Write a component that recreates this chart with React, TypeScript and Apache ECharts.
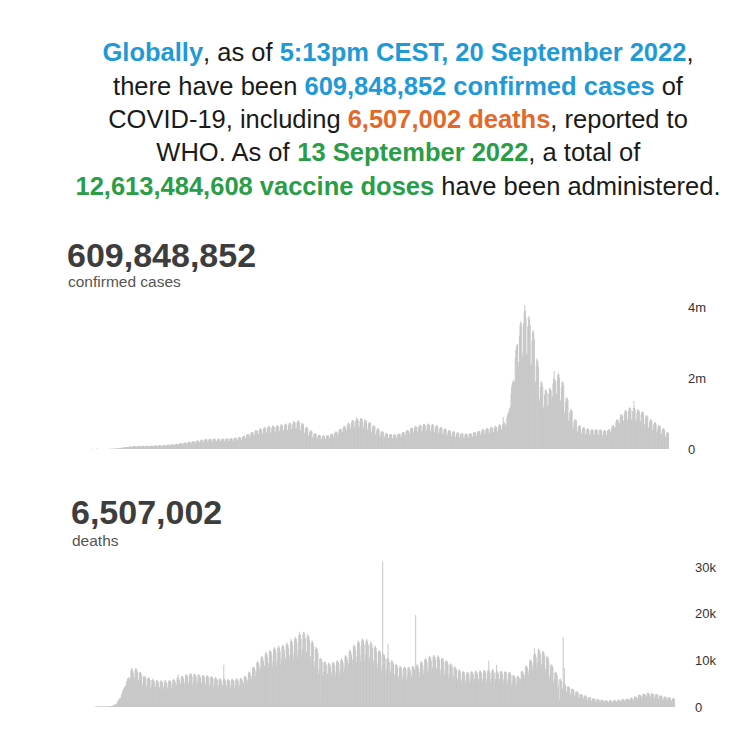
import React, { useEffect, useRef } from "react";
import * as echarts from "echarts";

// Daily new confirmed cases, in thousands (one row = one week)
const CASES_K = [
  0,0,0,0,0,0,0, 0,0,0,0,0,0,0, 0,0,0,0,1,1,1, 1,1,2,2,2,2,3,
  3,3,3,4,4,3,3, 3,3,2,2,15,5,3, 2,2,2,2,1,1,1, 1,1,1,2,2,2,2,
  2,2,3,3,4,4,4, 5,6,7,8,9,10,11, 11,12,14,16,17,18,19, 22,24,28,32,34,35,36,
  40,43,50,55,57,58,56, 52,55,66,71,73,72,70, 58,62,77,83,84,82,79, 62,66,82,88,90,88,85,
  63,65,81,87,91,89,84, 64,67,84,90,92,90,87, 66,70,87,94,95,93,90, 70,74,92,99,101,99,95,
  74,78,97,105,106,104,101, 78,82,102,110,112,110,106, 86,90,112,121,123,121,117, 94,98,122,132,134,132,127,
  101,107,133,143,146,143,138, 117,123,153,165,168,165,159, 129,135,168,182,185,182,175, 144,152,189,204,207,204,196,
  156,164,204,220,224,220,212, 168,176,219,237,241,237,228, 183,193,240,259,263,259,249, 195,205,255,275,280,275,265,
  199,209,260,281,286,281,270, 203,213,265,286,291,286,276, 200,215,262,288,290,284,279, 207,217,270,292,297,292,281,
  211,221,275,297,302,297,286, 215,226,281,303,308,303,292, 222,234,291,314,319,314,302, 234,246,306,330,336,330,318,
  257,271,337,363,370,363,350, 296,312,388,418,426,418,403, 335,353,439,473,482,473,456, 374,394,490,528,538,528,509,
  406,426,530,572,582,572,551, 429,451,561,605,616,605,583, 452,476,592,638,650,638,615, 460,484,602,649,661,649,625,
  468,492,612,660,672,660,636, 484,508,632,682,694,682,657, 499,525,653,704,717,704,678, 515,541,673,726,739,726,700,
  546,574,714,770,784,770,742, 562,590,734,792,806,792,763, 507,533,663,715,728,715,689, 437,459,571,616,627,616,594,
  367,385,479,517,526,517,498, 312,328,408,440,448,440,424, 281,295,367,396,403,396,382, 265,279,347,374,381,374,360,
  273,287,357,385,392,385,371, 304,320,398,429,437,429,413, 343,361,449,484,493,484,466, 398,418,520,561,571,561,541,
  452,476,592,638,650,638,615, 515,541,673,726,739,726,700, 569,599,745,803,818,803,774, 608,640,796,858,874,858,827,
  610,636,790,862,870,852,830, 577,607,755,814,829,814,784, 530,558,694,748,762,748,721, 468,492,612,660,672,660,636,
  406,426,530,572,582,572,551, 351,369,459,495,504,495,477, 312,328,408,440,448,440,424, 296,312,388,418,426,418,403,
  289,303,377,407,414,407,392, 304,320,398,429,437,429,413, 335,353,439,473,482,473,456, 374,394,490,528,538,528,509,
  421,443,551,594,605,594,572, 452,476,592,638,650,638,615, 476,500,622,671,683,671,647, 491,517,643,693,706,693,668,
  499,525,653,704,717,704,678, 491,517,643,693,706,693,668, 468,492,612,660,672,660,636, 437,459,571,616,627,616,594,
  406,426,530,572,582,572,551, 374,394,490,528,538,528,509, 351,369,459,495,504,495,477, 328,344,428,462,470,462,445,
  312,328,408,440,448,440,424, 304,320,398,429,437,429,413, 312,328,408,440,448,440,424, 335,353,439,473,482,473,456,
  359,377,469,506,515,506,488, 390,410,510,550,560,550,530, 413,435,541,583,594,583,562, 437,459,571,616,627,616,594,
  452,476,592,638,650,638,615, 484,508,632,682,694,682,657, 530,558,694,900,762,748,721, 640,690,880,960,1000,1050,1150,
  1100,1200,1550,1750,1850,1900,1950, 1800,1900,2550,2800,2900,2950,2950, 2300,2450,3200,3500,3600,3550,3450, 2600,2750,3550,3850,4050,3900,3700,
  2650,2700,3450,3700,3750,3650,3500, 2350,2400,3050,3300,3350,3250,3100, 1800,1900,2350,2550,2500,2450,2300, 1350,1400,1750,1900,1900,1850,1750,
  1150,1230,1530,1650,1680,1650,1590, 1200,1250,1560,1700,1720,1700,1650, 1400,1480,1840,1980,2200,1980,1900, 1480,1560,1940,2090,2150,2090,2010,
  1330,1390,1730,1870,1900,1870,1800, 1010,1070,1330,1430,1460,1430,1380, 780,820,1020,1100,1120,1100,1060, 585,615,765,825,840,825,795,
  468,492,612,660,672,660,636, 429,451,561,605,616,605,583, 406,426,530,572,582,572,551, 390,410,510,550,560,550,530,
  395,405,515,545,565,545,525, 382,402,500,539,549,539,519, 374,394,490,528,538,528,509, 390,410,510,550,560,550,530,
  468,492,612,660,672,660,636, 585,615,765,825,840,825,795, 686,722,898,968,986,968,933, 764,804,1000,1078,1098,1078,1039,
  819,861,1071,1155,1176,1155,1113, 819,861,1071,1155,1350,1155,1113, 780,820,1020,1100,1120,1100,1060, 741,779,969,1045,1064,1045,1007,
  663,697,867,935,952,935,901, 585,615,765,825,840,825,795, 530,558,694,748,762,748,721, 468,492,612,660,672,660,636,
  406,426,530,572,582,572,551, 328,344,428,462,470,462,445,
];

// Daily deaths, in hundreds (one row = one week)
const DEATHS_H = [
  0,0,0,0,0,0,0, 0,0,0,0,0,0,0, 0,0,0,0,0,0,0, 0,0,0,0,0,0,1,
  1,1,1,1,1,1,1, 1,1,1,1,1,1,1, 1,1,1,1,1,1,1, 1,1,2,2,2,2,2,
  3,4,5,5,6,6,7, 10,12,14,16,18,19,20, 25,28,33,37,40,42,44, 45,48,56,60,62,63,64,
  56,62,78,82,84,80,74, 58,64,80,84,83,81,76, 51,58,73,76,75,73,69, 45,51,65,67,66,65,61,
  43,48,62,64,63,62,58, 41,46,58,60,59,58,55, 39,44,56,58,57,56,53, 38,43,55,57,56,55,52,
  39,44,54,58,57,54,51, 39,44,56,58,57,56,53, 41,46,58,60,59,58,55, 43,48,62,64,70,62,58,
  45,51,65,67,66,65,61, 47,54,68,71,69,68,64, 49,55,70,73,72,70,66, 48,54,69,72,70,69,65,
  47,54,68,71,69,68,64, 47,53,67,69,68,67,63, 46,52,66,68,67,66,62, 44,50,64,66,65,64,60,
  43,48,62,64,63,62,58, 41,47,59,62,61,59,56, 41,47,59,91,61,59,56, 41,46,58,60,59,58,55,
  40,46,59,61,59,58,55, 41,47,59,62,61,59,56, 42,48,60,63,62,60,57, 45,51,65,67,66,65,61,
  51,58,73,76,75,73,69, 59,66,84,87,86,84,80, 66,75,95,99,97,95,90, 74,83,106,110,108,106,100,
  79,89,113,118,116,113,107, 83,94,119,123,121,119,112, 86,98,124,129,127,124,117, 89,100,127,132,130,127,120,
  90,102,130,134,132,130,122, 93,105,134,139,136,134,126, 98,111,140,146,143,140,133, 101,115,146,151,149,146,138,
  107,122,154,160,157,154,146, 109,123,157,162,160,157,148, 105,119,151,157,154,151,143, 96,109,138,143,141,138,131,
  86,98,124,129,127,124,117, 71,81,103,106,12,103,97, 66,75,95,99,97,95,90, 64,72,92,95,94,92,87,
  65,74,94,97,96,94,89, 68,77,97,101,99,97,92, 70,79,100,104,102,100,95, 75,85,108,112,110,108,102,
  83,94,119,123,121,119,112, 90,102,130,134,132,130,122, 96,109,138,143,141,138,131, 99,112,143,148,145,143,135,
  98,111,140,146,143,140,133, 94,106,135,140,138,135,128, 89,100,127,132,130,127,120, 83,94,119,123,121,119,112,
  77,88,313,115,113,111,105, 71,81,103,106,136,103,97, 68,77,97,101,99,97,92, 62,71,90,93,91,90,85,
  59,67,85,88,87,85,81, 59,66,84,87,86,84,80, 58,67,85,86,86,83,79, 59,67,85,88,87,85,81,
  62,198,89,92,90,89,84, 66,75,95,99,97,95,90, 71,80,102,105,103,102,96, 74,83,106,110,108,106,100,
  75,85,108,112,110,108,102, 74,84,107,111,109,107,101, 71,81,103,106,105,103,97, 68,77,97,101,99,97,92,
  63,71,91,94,92,91,86, 59,66,84,87,86,84,80, 54,61,78,81,79,78,73, 52,59,75,77,76,75,70,
  51,58,73,76,75,73,69, 52,59,75,77,76,75,70, 53,60,76,78,77,76,71, 52,60,75,79,78,75,72,
  53,60,77,80,78,77,72, 54,61,78,81,100,78,73, 54,61,78,81,79,78,73, 53,60,76,91,77,76,71,
  53,60,76,78,77,76,71, 52,59,75,77,76,75,70, 51,58,73,76,75,73,69, 47,53,67,69,68,67,63,
  45,51,65,67,66,65,61, 53,60,76,78,77,76,71, 60,68,86,90,88,86,82, 69,78,99,103,101,99,94,
  79,89,113,127,116,113,107, 84,95,121,125,123,121,114, 81,92,117,121,119,117,110, 74,83,106,110,108,106,100,
  62,70,89,92,90,89,84, 51,58,73,76,75,73,69, 41,47,59,15,61,59,56, 35,39,150,52,84,50,47,
  30,34,43,45,44,43,41, 26,30,38,39,39,38,36, 23,26,32,34,33,32,31, 19,21,27,28,28,27,26,
  17,19,24,25,24,24,22, 14,16,21,21,21,21,19, 13,14,18,19,19,18,17, 11,13,16,17,17,16,15,
  11,12,15,16,15,15,14, 10,11,14,15,14,14,13, 10,11,14,15,14,14,13, 10,11,14,14,15,14,13,
  11,12,15,16,15,15,14, 11,13,16,17,17,16,15, 12,14,17,18,18,17,16, 14,15,19,20,20,19,18,
  15,17,22,22,22,22,20, 18,20,26,27,26,26,24, 20,22,28,29,28,28,26, 20,23,29,31,30,29,27,
  20,23,29,30,29,28,27, 19,21,27,28,28,27,26, 17,19,24,25,24,24,22, 15,17,22,22,22,22,20,
  14,16,21,21,21,21,19, 13,14,18,19,19,18,17,
];

const START_DAY = Date.UTC(2020, 0, 1);
const DATES = CASES_K.map((_, i) =>
  new Date(START_DAY + i * 86400000).toISOString().slice(0, 10)
);

const HEADER_LINES = [
  "{b|Globally}, as of {b|5:13pm CEST, 20 September 2022},",
  "there have been {b|609,848,852 confirmed cases} of",
  "COVID-19, including {o|6,507,002 deaths}, reported to",
  "WHO. As of {g|13 September 2022}, a total of",
  "{g|12,613,484,608 vaccine doses} have been administered.",
];
const CASES_TOTAL = "609,848,852";
const CASES_LABEL = "confirmed cases";
const DEATHS_TOTAL = "6,507,002";
const DEATHS_LABEL = "deaths";

const CASES_MAX = 4310000;
const CASES_STEP = 2000000;
const DEATHS_MAX = 31600;
const DEATHS_STEP = 10000;

const FONT = "'Liberation Sans', Arial, Helvetica, sans-serif";
const BLUE = "#1f9ad6";
const ORANGE = "#e2692b";
const GREEN = "#2a9d47";
const BAR = "#c6c6c6";
const HEAD_SIZE = 25.5;

export default function App() {
  const ref = useRef<HTMLDivElement>(null);
  useEffect(() => {
    if (!ref.current) return;
    const chart = echarts.init(ref.current, null, { renderer: "svg" });
    const lineYs = [52, 85.5, 119, 152, 185.5];
    const rich = {
      b: { fill: BLUE, fontWeight: "bold", fontSize: HEAD_SIZE, fontFamily: FONT },
      o: { fill: ORANGE, fontWeight: "bold", fontSize: HEAD_SIZE, fontFamily: FONT },
      g: { fill: GREEN, fontWeight: "bold", fontSize: HEAD_SIZE, fontFamily: FONT },
    };
    const header = HEADER_LINES.map((t, i) => ({
      type: "text",
      x: 398,
      y: lineYs[i],
      silent: true,
      style: {
        text: t,
        fill: "#1a1a1a",
        fontSize: HEAD_SIZE,
        fontFamily: FONT,
        align: "center",
        verticalAlign: "middle",
        rich,
      },
    }));
    const titles = [
      { text: CASES_TOTAL, x: 67, y: 255, size: 34, bold: true, color: "#3d3d3d" },
      { text: CASES_LABEL, x: 68, y: 281, size: 15.5, bold: false, color: "#555555" },
      { text: DEATHS_TOTAL, x: 71, y: 512, size: 34, bold: true, color: "#3d3d3d" },
      { text: DEATHS_LABEL, x: 72, y: 540, size: 15.5, bold: false, color: "#555555" },
    ].map((t) => ({
      type: "text",
      x: t.x,
      y: t.y,
      silent: true,
      style: {
        text: t.text,
        fill: t.color,
        fontSize: t.size,
        fontWeight: t.bold ? "bold" : "normal",
        fontFamily: FONT,
        align: "left",
        verticalAlign: "middle",
      },
    }));
    const yAxisCommon = {
      type: "value",
      position: "right",
      min: 0,
      splitLine: { show: false },
      axisLine: { show: false },
      axisTick: { show: false },
    };
    chart.setOption({
      animation: false,
      grid: [
        { left: 73, top: 296, width: 596, height: 153 },
        { left: 79, top: 560, width: 596, height: 147 },
      ],
      xAxis: [
        { type: "category", gridIndex: 0, data: DATES, show: false },
        { type: "category", gridIndex: 1, data: DATES, show: false },
      ],
      yAxis: [
        {
          ...yAxisCommon,
          gridIndex: 0,
          max: CASES_MAX,
          interval: CASES_STEP,
          axisLabel: {
            margin: 19,
            color: "#333",
            fontSize: 13,
            fontFamily: FONT,
            formatter: (v: number) =>
              v === 0 ? "0" : v % CASES_STEP === 0 ? v / 1000000 + "m" : "",
          },
        },
        {
          ...yAxisCommon,
          gridIndex: 1,
          max: DEATHS_MAX,
          interval: DEATHS_STEP,
          axisLabel: {
            margin: 20,
            color: "#333",
            fontSize: 13,
            fontFamily: FONT,
            formatter: (v: number) =>
              v === 0 ? "0" : v % DEATHS_STEP === 0 ? v / 1000 + "k" : "",
          },
        },
      ],
      series: [
        {
          type: "bar",
          xAxisIndex: 0,
          yAxisIndex: 0,
          data: CASES_K.map((v) => v * 1000),
          barCategoryGap: "0%",
          itemStyle: { color: BAR },
          silent: true,
        },
        {
          type: "bar",
          xAxisIndex: 1,
          yAxisIndex: 1,
          data: DEATHS_H.map((v) => v * 100),
          barCategoryGap: "0%",
          itemStyle: { color: BAR },
          silent: true,
        },
      ],
      graphic: [...header, ...titles],
    });
    return () => chart.dispose();
  }, []);
  return (
    <div
      ref={ref}
      style={{ position: "absolute", left: 0, top: 0, width: 746, height: 736, background: "#fff" }}
    />
  );
}
